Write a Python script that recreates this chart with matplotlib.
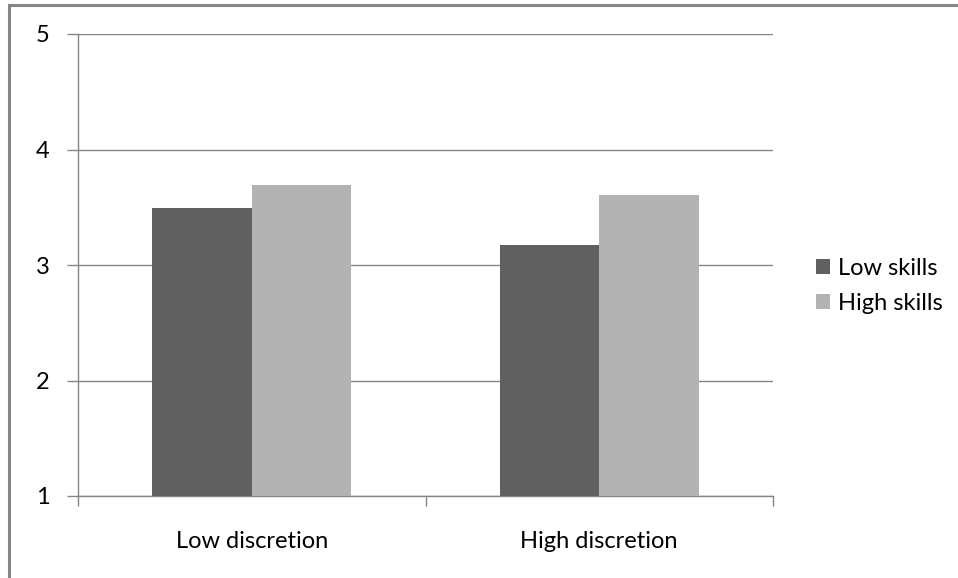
import matplotlib
matplotlib.use("Agg")
import matplotlib.pyplot as plt
from matplotlib.patches import Rectangle
import numpy as np

categories = ["Low discretion", "High discretion"]
series_names = ["Low skills", "High skills"]
low_skills = [3.49, 3.17]
high_skills = [3.69, 3.61]
yticks = [1, 2, 3, 4, 5]

plt.rcParams['font.family'] = ['Lato', 'DejaVu Sans']

fig = plt.figure(figsize=(9.58, 5.78), dpi=100)
ax = fig.add_axes([78/958, 82/578, 695/958, 462/578])

x = np.arange(len(categories))
w = 0.286
ax.bar(x - w/2, np.array(low_skills) - 1, w, bottom=1, color="#606060", label=series_names[0], zorder=3)
ax.bar(x + w/2, np.array(high_skills) - 1, w, bottom=1, color="#b3b3b3", label=series_names[1], zorder=3)

ax.set_xlim(-0.5, 1.5)
ax.set_ylim(1, 5)
ax.set_yticks(yticks)
ax.set_yticklabels([str(t) for t in yticks], fontsize=17)
ax.yaxis.grid(True, color="#868686", linewidth=1.0, zorder=0)
ax.set_axisbelow(True)

ax.set_xticks([-0.5, 0.5, 1.5])
ax.set_xticklabels([])
ax.set_xticks(x, minor=True)
ax.set_xticklabels(categories, minor=True, fontsize=17)
ax.tick_params(axis='x', which='minor', length=0, pad=25)
ax.tick_params(axis='x', which='major', length=7, color="#868686", width=1)
ax.tick_params(axis='y', length=8, color="#868686", width=1, pad=12.5)

for s in ["top", "right"]:
    ax.spines[s].set_visible(False)
for s in ["left", "bottom"]:
    ax.spines[s].set_color("#868686")
    ax.spines[s].set_linewidth(1.0)

leg = fig.legend(loc="center left", bbox_to_anchor=(795/958, 1 - 286/578), frameon=False,
                 fontsize=17, handlelength=0.6, handleheight=0.6, handletextpad=0.3,
                 labelspacing=0.6)

fig.patches.append(Rectangle((9/958, -0.1), 1.2, 1 - 5/578 + 0.1, transform=fig.transFigure,
                             fill=False, edgecolor="#868686", linewidth=2.2))

fig.savefig("out.png", dpi=100)
